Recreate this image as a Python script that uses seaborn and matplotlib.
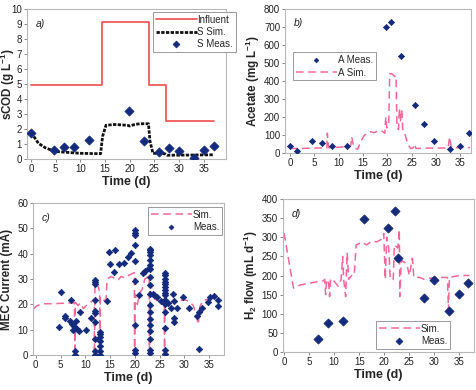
import matplotlib
matplotlib.use('Agg')
import matplotlib.pyplot as plt
from matplotlib.lines import Line2D
import numpy as np
import seaborn as sns

# ---------------- data ----------------
# a) soluble COD
influent_t = [0, 14.3, 23.9, 27.4, 37.1]
influent_v = [4.9, 9.1, 4.9, 2.5, 2.5]
s_sim_t = [0, 0.5, 1.5, 2.9, 4.9, 7, 10, 14.1, 14.5, 15.2, 17, 19.5, 20, 21, 22, 23.8, 24.1, 24.7, 27.1, 27.6, 37.1]
s_sim_v = [1.75, 1.55, 1.05, 0.75, 0.5, 0.45, 0.38, 0.35, 1.5, 2.25, 2.3, 2.25, 2.2, 2.3, 2.35, 2.35, 1.2, 0.38, 0.35, 0.25, 0.28]
s_meas_t = [0, 4.7, 6.7, 8.8, 11.7, 19.9, 22.9, 26.0, 27.9, 30.0, 33.1, 35.1, 37.1]
s_meas_v = [1.75, 0.6, 0.78, 0.78, 1.27, 3.22, 1.2, 0.5, 0.76, 0.56, 0.05, 0.6, 0.89]

# b) acetate
a_meas_t = [0, 1.5, 4.6, 6.7, 8.6, 11.7, 19.8, 20.7, 22.8, 25.7, 27.6, 29.7, 32.9, 35.0, 36.7]
a_meas_v = [37, 9, 67, 53, 41, 41, 700, 726, 537, 268, 161, 67, 24, 41, 111]
a_sim_t = [0, 3, 6, 7.6, 7.7, 7.8, 8.0, 10, 11.5, 12.5, 12.7, 12.9, 13.2, 13.9, 14.5, 15.2, 15.8, 16.6,
           17.3, 18.3, 19.0, 19.5, 19.7, 19.9, 20.3, 20.5, 21.0, 21.5, 21.8, 22.0, 22.3, 22.5, 22.7, 23.0,
           23.2, 23.7, 24.2, 24.8, 25.3, 25.6, 25.9, 28, 32.5, 32.8, 33.1, 33.3, 37]
a_sim_v = [25, 26, 28, 28, 110, 70, 30, 32, 35, 40, 90, 60, 30, 20, 60, 95, 110, 118,
           113, 125, 120, 110, 200, 140, 150, 440, 440, 425, 430, 150, 130, 250, 175, 240,
           120, 100, 50, 25, 28, 50, 25, 27, 28, 90, 40, 30, 30]

# c) MEC current
c_meas_t = [4.6, 5.0, 5.8, 6.0, 6.9, 7.1, 7.3, 7.8, 7.5, 8.4, 8.7, 8.2, 9.0, 7.9, 7.9, 10.1, 11.1,
            11.9, 11.9, 11.9, 11.9, 11.9, 11.9, 11.9, 11.9, 11.9, 11.9,
            13.0, 13.0, 13.0, 13.0, 13.0, 13.0, 13.0,
            14.3, 14.8, 15.0, 15.8, 16.0, 16.8, 17.8, 18.6, 19.2,
            20.0, 20.0, 20.0, 20.0, 20.0, 20.0, 20.0, 20.0, 20.0,
            20.9, 21.6, 22.0, 22.9,
            23.0, 23.0, 23.0, 23.0, 23.0, 23.0, 23.0, 23.0, 23.0, 23.0, 23.0, 23.0, 23.0, 23.0, 23.0,
            23.0, 23.0, 23.0,
            23.6, 23.9, 24.4, 25.2,
            26.0, 26.0, 26.0, 26.0, 26.0, 26.0, 26.0, 26.0, 26.0, 26.0, 26.0, 26.0, 26.0, 26.0, 26.0,
            26.7, 27.2, 27.7, 28.0, 27.9, 27.9, 28.6, 29.8, 31.0, 32.6, 32.9, 33.5, 33.0,
            34.8, 35.1, 35.9, 36.8, 36.8]
c_meas_v = [11.1, 24.7, 14.5, 15.5, 13.4, 21.6, 12.1, 11.6, 9.8, 10.1, 9.5, 13.5, 16.8, 1.6, 0.0, 9.9, 14.5,
            29.6, 28.7, 28.0, 21.6, 17.4, 16.5, 13.1, 6.5, 1.6, 0.0,
            9.2, 8.2, 7.0, 5.5, 3.6, 1.6, 0.0,
            21.3, 40.5, 35.8, 32.9, 41.3, 36.0, 36.3, 38.8, 40.2,
            49.2, 48.3, 47.2, 43.3, 37.0, 29.1, 11.7, 1.8, 0.9,
            23.8, 32.4, 33.0, 34.3,
            42.0, 41.3, 40.7, 39.3, 37.4, 35.4, 33.8, 30.8, 27.5, 24.2, 19.6, 17.0, 14.3, 11.7, 9.3,
            6.2, 1.8, 0.9,
            24.2, 23.5, 22.9, 21.3,
            32.4, 31.4, 30.0, 29.0, 28.0, 27.0, 25.8, 24.5, 23.5, 21.8, 20.0, 17.0, 10.5, 2.0, 0.5,
            20.4, 18.4, 24.1, 21.3, 14.5, 12.9, 18.4, 23.0, 18.7, 15.5, 16.8, 18.7, 2.2,
            21.0, 23.0, 23.4, 21.7, 19.5]
c_sim_t = [-0.5, 0.3, 1.5, 4, 7.8, 7.9, 8.0, 8.5, 9.0, 9.6, 10.5, 11.2, 11.8, 11.85, 11.95, 12.6, 12.9,
           12.95, 13.05, 13.8, 14.2, 14.4, 15.2, 16.0, 16.6, 17.2, 18.0, 18.8, 19.9, 19.95, 20.05, 20.5,
           21.0, 21.5, 22.0, 22.9, 22.95, 23.05, 24, 25, 25.95, 26.0, 26.05, 27, 28.5, 30, 31, 31.8,
           32.5, 32.8, 33.1, 33.8, 35, 37]
c_sim_v = [18.2, 19.5, 20.2, 20.3, 20.6, 0, 20.8, 19.5, 20.5, 18.3, 20.2, 21.0, 22.0, 0, 28.5, 27.0, 25,
           0, 23, 21.5, 22, 30, 31, 30.2, 29.5, 31.0, 30.5, 31.5, 32.5, 0, 24, 20,
           24.5, 26, 30, 31, 0, 25, 22, 21.2, 21, 0, 21.2, 20.5, 21.2, 21.8, 21.2, 19.5,
           15, 12, 19, 21.5, 22.2, 22.2]

# d) H2 flow
h_meas_t = [6.85, 8.85, 11.8, 16.0, 20.8, 22.2, 22.8, 27.9, 29.9, 33.0, 34.9, 36.8]
h_meas_v = [35, 77, 82, 348, 323, 369, 247, 140, 189, 106, 152, 180]
h_sim_t = [0, 1.9, 3.2, 5.9, 7.9, 8.1, 8.3, 8.5, 8.9, 9.1, 9.3, 10.0, 10.8, 11.4, 11.7, 11.9, 12.3,
           12.6, 12.9, 13.5, 14.0, 14.4, 15.5, 16.5, 17.5, 18.5, 19.5, 19.9, 20.2, 20.5, 20.9, 21.2,
           21.8, 22.0, 22.7, 23.0, 23.1, 23.4, 24.5, 25.0, 25.6, 25.9, 27, 28, 30, 32.6, 32.8, 33.0,
           35, 37]
h_sim_v = [311, 167, 175, 182, 186, 190, 150, 190, 180, 145, 192, 185, 172, 190, 250, 190, 145,
           260, 190, 200, 200, 280, 287, 280, 290, 288, 295, 310, 190, 300, 270, 190,
           190, 280, 272, 320, 145, 240, 230, 200, 245, 195, 195, 190, 195, 195, 110, 195,
           200, 200]

# ---------------- style ----------------
NAVY = '#142a7c'
PINK = '#f2679a'
RED = '#f05a5a'
FRAME = '#b8b8b8'
DASH = (0, (5, 3))
SIMDOT = (0, (1.2, 0.5))

sns.set_theme(style='white')
plt.rcParams['font.family'] = ['Liberation Sans', 'DejaVu Sans']
plt.rcParams['mathtext.fontset'] = 'custom'
plt.rcParams['mathtext.rm'] = 'Liberation Sans'
plt.rcParams['mathtext.bf'] = 'Liberation Sans:bold'

W, H = 477, 390
fig = plt.figure(figsize=(W / 100, H / 100), dpi=100)


def add_axes(l, r, t, b):
    # pixel box -> figure fraction
    return fig.add_axes([l / W, 1 - b / H, (r - l) / W, (b - t) / H])


def style_axes(ax, xlim, ylim, ystep, ylabel, letter, ylab_x):
    ax.set_xlim(*xlim)
    ax.set_ylim(*ylim)
    ax.set_xticks(np.arange(0, 36, 5))
    ax.set_yticks(np.arange(ylim[0], ylim[1] + ystep / 2, ystep))
    for s in ax.spines.values():
        s.set_color(FRAME)
        s.set_linewidth(0.8)
    ax.tick_params(axis='both', which='both', direction='out', length=2.5, width=0.7,
                   color='#888888', labelsize=7, labelcolor='#222222', pad=1,
                   bottom=True, left=True)
    ax.set_xlabel('Time (d)', fontsize=9, fontweight='bold', labelpad=1.5)
    ax.set_ylabel(ylabel, fontsize=8.4, fontweight='bold')
    ax.yaxis.set_label_coords(ylab_x, 0.5)
    ax.text(0.045, 0.9, letter, transform=ax.transAxes, fontsize=7.5, style='italic',
            va='center', ha='left', color='#222222')


def add_legend(ax, handles, loc, anchor):
    leg = ax.legend(handles=handles, loc=loc, bbox_to_anchor=anchor, fontsize=7,
                    frameon=True, fancybox=False, edgecolor='#999999', handlelength=4.2,
                    handletextpad=0.1, borderpad=0.3, labelspacing=0.25,
                    borderaxespad=0, framealpha=1)
    leg.get_frame().set_linewidth(0.7)
    return leg


def meas_handle(label, s):
    return Line2D([], [], ls='none', marker='D', ms=0.75 * np.sqrt(s), mew=0.5,
                  color=NAVY, label=label)


def sim_handle(label):
    return Line2D([], [], color=PINK, lw=1.1, ls=DASH, label=label)


# ---------------- a) ----------------
ax = add_axes(27, 226, 9, 159)
sns.lineplot(x=influent_t, y=influent_v, ax=ax, color=RED, lw=1.3,
             drawstyle='steps-post', estimator=None, sort=False)
sns.lineplot(x=s_sim_t, y=s_sim_v, ax=ax, color='#111111', lw=2.0,
             estimator=None, sort=False, linestyle=SIMDOT)
sns.scatterplot(x=s_meas_t, y=s_meas_v, ax=ax, marker='D', s=22, color=NAVY,
                edgecolor=NAVY, linewidth=0.5, zorder=5)
style_axes(ax, (-0.8, 39.5), (0, 10), 1, r'sCOD (g L$^{\mathbf{-1}}$)', 'a)', -0.05)
add_legend(ax, [Line2D([], [], color=RED, lw=1.3, label='Influent'),
                Line2D([], [], color='#111111', lw=2.0, ls=SIMDOT, label='S Sim.'),
                meas_handle('S Meas.', 22)],
           'upper left', (0.632, 0.982))

# ---------------- b) ----------------
ax = add_axes(285, 471, 9, 153)
sns.scatterplot(x=a_meas_t, y=a_meas_v, ax=ax, marker='D', s=10, color=NAVY,
                edgecolor=NAVY, linewidth=0.5, zorder=5)
sns.lineplot(x=a_sim_t, y=a_sim_v, ax=ax, color=PINK, lw=1.1, linestyle=DASH,
             estimator=None, sort=False)
style_axes(ax, (-1.0, 37.2), (0, 800), 100, r'Acetate (mg L$^{\mathbf{-1}}$)', 'b)', -0.125)
add_legend(ax, [meas_handle('A Meas.', 10), sim_handle('A Sim.')],
           'upper left', (0.043, 0.70))

# ---------------- c) ----------------
ax = add_axes(33.3, 224, 203, 355)
sns.lineplot(x=c_sim_t, y=c_sim_v, ax=ax, color=PINK, lw=1.1, linestyle=DASH,
             estimator=None, sort=False)
sns.scatterplot(x=c_meas_t, y=c_meas_v, ax=ax, marker='D', s=11, color=NAVY,
                edgecolor=NAVY, linewidth=0.5, zorder=5)
style_axes(ax, (-0.5, 38.0), (0, 60), 10, 'MEC Current (mA)', 'c)', -0.108)
add_legend(ax, [sim_handle('Sim.'), meas_handle('Meas.', 11)],
           'upper left', (0.602, 0.974))

# ---------------- d) ----------------
ax = add_axes(282.7, 474, 199, 352)
sns.lineplot(x=h_sim_t, y=h_sim_v, ax=ax, color=PINK, lw=1.1, linestyle=DASH,
             estimator=None, sort=False)
sns.scatterplot(x=h_meas_t, y=h_meas_v, ax=ax, marker='D', s=22, color=NAVY,
                edgecolor=NAVY, linewidth=0.5, zorder=5)
style_axes(ax, (-0.26, 37.9), (0, 400), 50, r'H$_{\mathbf{2}}$ flow (mL d$^{\mathbf{-1}}$)', 'd)', -0.119)
add_legend(ax, [sim_handle('Sim.'), meas_handle('Meas.', 22)],
           'lower left', (0.488, 0.02))

fig.savefig('out.png', dpi=100, facecolor='white')
